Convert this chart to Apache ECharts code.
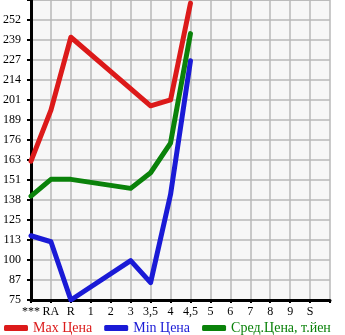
<!DOCTYPE html>
<html>
<head>
<meta charset="utf-8">
<script src="https://cdn.jsdelivr.net/npm/echarts@6/dist/echarts.min.js"></script>
<style>html,body{margin:0;padding:0;background:#fff}#c{width:345px;height:335px}</style>
</head>
<body>
<div id="c"></div>
<script>
var categories = ['***','RA','R','1','2','3','3,5','4','4,5','5','6','7','8','9','S',''];
var maxPrice = [163, 195.3, 241.4, null, null, null, 198, 201.7, 263, null, null, null, null, null, null, null];
var minPrice = [115.7, 111.9, 75, null, null, 99.9, 86, 141.8, 226.5, null, null, null, null, null, null, null];
var avgPrice = [140.8, 151.4, 151.4, null, null, 145.7, 155.6, 174.4, 243.7, null, null, null, null, null, null, null];
var seriesNames = ['Max Цена', 'Min Цена', 'Сред.Цена, т.йен'];
var colors = ['#dc1a1a', '#1a1ad6', '#0a820a'];
var yMin = 75, yMax = 265, yStep = 190 / 15;

var font = 'Liberation Serif';
var chart = echarts.init(document.getElementById('c'));
function mk(name, data, color) {
  return {
    name: name, type: 'line', data: data, connectNulls: true,
    showSymbol: false, symbol: 'none', smooth: false,
    lineStyle: { width: 5, color: color, cap: 'round', join: 'round' },
    itemStyle: { color: color }, z: 3
  };
}
chart.setOption({
  animation: false,
  backgroundColor: '#fff',
  grid: { left: 30, right: 15, top: 0, bottom: 35, show: true, backgroundColor: '#f7f7f7', borderWidth: 0 },
  legend: {
    left: -1, top: 316, itemWidth: 24, itemHeight: 6, itemGap: 12, icon: 'roundRect',
    textStyle: { fontFamily: font, fontSize: 14 },
    data: seriesNames.map(function (n, i) { return { name: n, textStyle: { color: colors[i] } }; })
  },
  xAxis: {
    type: 'category', data: categories, boundaryGap: false,
    axisLine: { lineStyle: { color: '#000', width: 3 } },
    axisTick: { show: true, length: 3, lineStyle: { color: '#000', width: 2 } },
    axisLabel: { color: '#000', fontFamily: font, fontSize: 12, margin: 6, interval: 0 },
    splitLine: { show: true, lineStyle: { color: '#b8b8b8', width: 1.5 } }
  },
  yAxis: {
    type: 'value', min: yMin, max: yMax, interval: yStep,
    axisLine: { show: true, lineStyle: { color: '#000', width: 3 } },
    axisTick: { show: true, length: 4, lineStyle: { color: '#000', width: 2 } },
    axisLabel: { color: '#000', fontFamily: font, fontSize: 12, margin: 10,
      formatter: function (v) { return v > yMax - 1 ? '' : String(Math.floor(v + 1e-6)); } },
    splitLine: { show: true, lineStyle: { color: '#b8b8b8', width: 1.5 } }
  },
  series: [mk(seriesNames[0], maxPrice, colors[0]), mk(seriesNames[1], minPrice, colors[1]), mk(seriesNames[2], avgPrice, colors[2])]
});
</script>
</body>
</html>
